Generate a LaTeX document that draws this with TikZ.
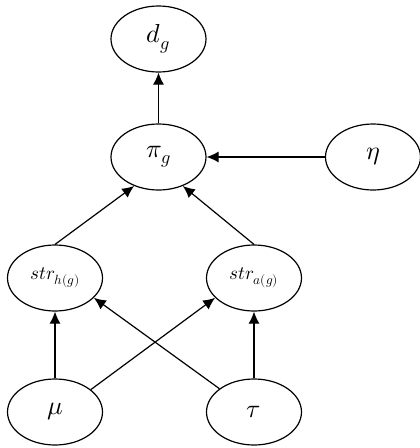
\documentclass[tikz,border=0pt]{standalone}
\usepackage{unicode-math}
\setmathfont{Latin Modern Math}
\usetikzlibrary{arrows.meta,shapes.geometric}
\begin{document}
\begin{tikzpicture}[x=1pt,y=-1pt,
  var/.style={draw,ellipse,line width=1.2pt,minimum width=95pt,minimum height=66pt,inner sep=0pt,font=\fontsize{26}{28}\selectfont},
  svar/.style={var,font=\fontsize{19}{21}\selectfont},
  arr/.style={line width=1.2pt,-{Latex[length=12pt,width=11pt]}}]
\useasboundingbox (0,0) rectangle (420,448);
\node[var] (dg) at (158.5,39) {$d_g$};
\node[var] (pg) at (158.5,157) {$\pi_g$};
\node[var] (eta) at (373,157) {$\eta$};
\node[svar] (sh) at (55,278) {$str_{h(g)}$};
\node[svar] (sa) at (254,278) {$str_{a(g)}$};
\node[var] (mu) at (55,412) {$\mu$};
\node[var] (tau) at (254,412) {$\tau$};
\draw[arr] (pg.north) -- (dg.south);
\draw[arr] (eta.west) -- (pg.east);
\draw[arr] (sh.north) -- (pg.230);
\draw[arr] (sa.north) -- (pg.310);
\draw[arr] (mu.north) -- (sh.south);
\draw[arr] (tau.north) -- (sa.south);
\draw[arr] (mu.32) -- (sa.207);
\draw[arr] (tau.146) -- (sh.333);
\end{tikzpicture}
\end{document}
